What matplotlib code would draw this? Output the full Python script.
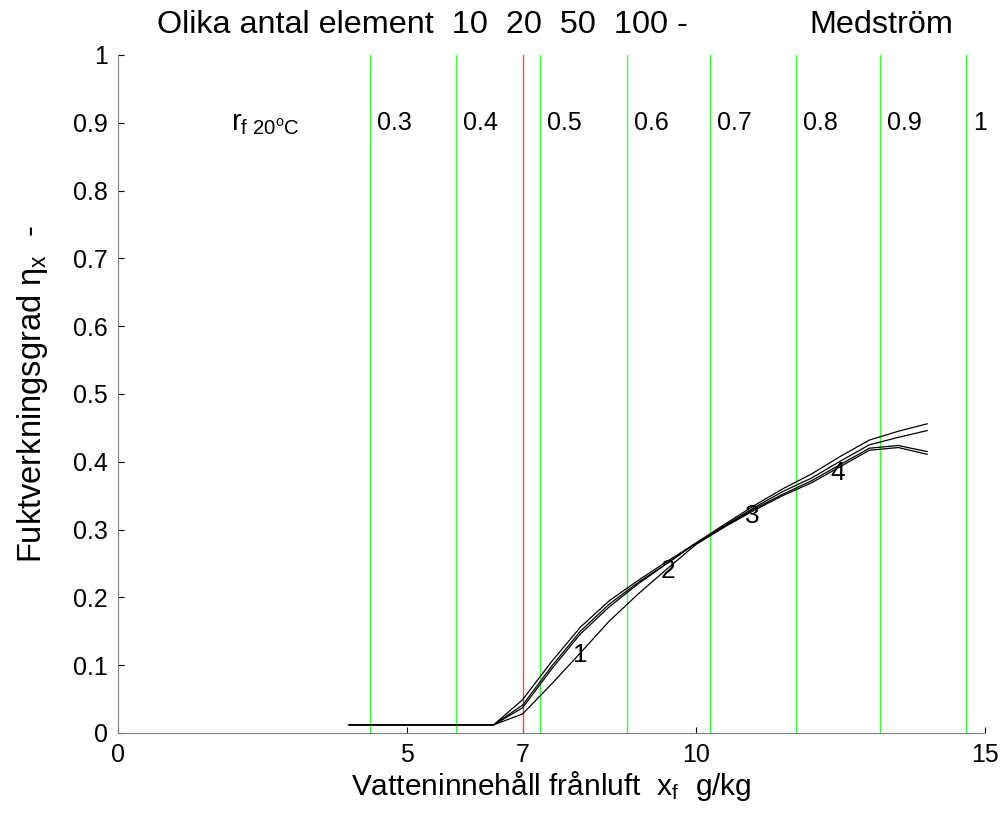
import matplotlib
matplotlib.use('Agg')
import matplotlib.pyplot as plt

plt.rcParams['font.family'] = ['Liberation Sans', 'DejaVu Sans']
plt.rcParams['mathtext.fontset'] = 'custom'
plt.rcParams['mathtext.rm'] = 'Liberation Sans'
plt.rcParams['mathtext.it'] = 'Liberation Sans:italic'

# water content of exhaust air, g/kg
x_pts = [4, 6.5, 7, 7.5, 8, 8.5, 9, 9.5, 10, 10.5, 11, 11.5, 12, 12.5, 13, 13.5, 14]

# moisture efficiency for different number of elements
eta_a = [0.012, 0.012, 0.049, 0.105, 0.156, 0.195, 0.225, 0.253, 0.280, 0.308, 0.335, 0.360, 0.382, 0.408, 0.432, 0.445, 0.456]
eta_b = [0.012, 0.012, 0.041, 0.098, 0.150, 0.190, 0.222, 0.250, 0.280, 0.306, 0.332, 0.356, 0.376, 0.401, 0.425, 0.436, 0.446]
eta_c = [0.012, 0.012, 0.037, 0.094, 0.146, 0.186, 0.220, 0.250, 0.280, 0.305, 0.330, 0.352, 0.372, 0.396, 0.420, 0.424, 0.415]
eta_d = [0.012, 0.012, 0.028, 0.072, 0.118, 0.165, 0.205, 0.242, 0.278, 0.304, 0.328, 0.350, 0.369, 0.393, 0.417, 0.421, 0.411]

# relative humidity lines at 20 C
rh_x = [4.36, 5.85, 7.30, 8.81, 10.24, 11.73, 13.18, 14.67]
rh_lbl = ['0.3', '0.4', '0.5', '0.6', '0.7', '0.8', '0.9', '1']
red_x = 7.0

curve_lbl = ['1', '2', '3', '4']
curve_lbl_x = [8.0, 9.52, 10.97, 12.46]
curve_lbl_y = [0.115, 0.239, 0.32, 0.383]

fig = plt.figure(figsize=(10.03, 8.23), dpi=100)
ax = fig.add_axes([0.1176, 0.1094, 0.8644, 0.8238])

for xv in rh_x:
    ax.plot([xv, xv], [0, 1], color='#33ff33', lw=1)
ax.plot([red_x, red_x], [0, 1], color='#ff4444', lw=1)

for e in (eta_a, eta_b, eta_c, eta_d):
    ax.plot(x_pts, e, color='black', lw=0.9)

for xv, t in zip(rh_x, rh_lbl):
    ax.text(xv + 0.12, 0.9, t, fontsize=18, va='center', ha='left')
ax.text(1.95, 0.9, r'r$_{\mathrm{f\ 20^{o}C}}$', fontsize=21, va='center', ha='left')

for t, xv, yv in zip(curve_lbl, curve_lbl_x, curve_lbl_y):
    ax.text(xv, yv, t, fontsize=19, ha='center', va='center')

ax.text(0.67, 1.044, 'Olika antal element  10  20  50  100 -', fontsize=23.3,
        ha='left', va='center', clip_on=False)
ax.text(11.97, 1.044, 'Medström', fontsize=23.3, ha='left', va='center', clip_on=False)

ax.set_xlim(0, 15)
ax.set_ylim(0, 1)
ax.set_xticks([0, 5, 7, 10, 15])
ax.set_xticklabels(['0', '5', '7', '10', '15'])
ax.set_yticks([i / 10 for i in range(11)])
ax.set_yticklabels(['0'] + ['0.%d' % i for i in range(1, 10)] + ['1'])
ax.tick_params(direction='in', length=4, labelsize=18, color='black', pad=7)

for s in ('top', 'right'):
    ax.spines[s].set_visible(False)
for s in ('left', 'bottom'):
    ax.spines[s].set_color('#808080')

ax.set_xlabel('Vatteninnehåll frånluft  x$_{\\mathrm{f}}$  g/kg', fontsize=21.5, labelpad=2)
ax.set_ylabel('Fuktverkningsgrad η$_{\\mathrm{x}}$  -', fontsize=23.5, labelpad=17)

fig.savefig('out.png', dpi=100)
